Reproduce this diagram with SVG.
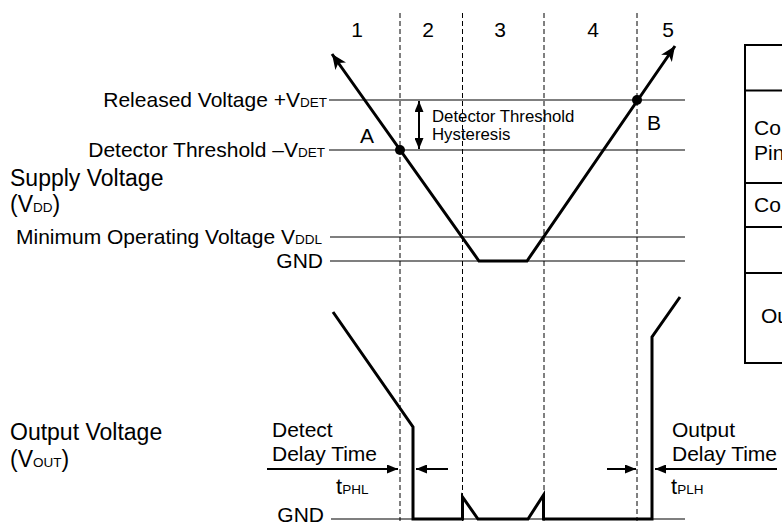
<svg xmlns="http://www.w3.org/2000/svg" width="782" height="526" viewBox="0 0 782 526">
<defs>
<style>
text{font-family:"Liberation Sans",Arial,sans-serif;fill:#000}
.lbl{font-size:21px}
.ttl{font-size:23px}
.hys{font-size:16.8px}
.sub{font-size:13.5px}
.ref{stroke:#000;stroke-width:1.2;fill:none}
.dash{stroke:#000;stroke-width:1;stroke-dasharray:5 3;fill:none}
.wave{stroke:#000;stroke-width:3;fill:none;stroke-linejoin:miter}
.arr{stroke:#000;stroke-width:2;fill:none}
.tbl{stroke:#000;stroke-width:2;fill:none}
</style>
<marker id="big" markerUnits="userSpaceOnUse" markerWidth="16" markerHeight="14" refX="15" refY="6.5" orient="auto-start-reverse">
<path d="M0,0 L15,6.5 L0,13 L4,6.5 z" fill="#000"/>
</marker>
<marker id="ah" markerUnits="userSpaceOnUse" markerWidth="11" markerHeight="9" refX="11" refY="4.5" orient="auto-start-reverse">
<path d="M0,0 L11,4.5 L0,9 z" fill="#000"/>
</marker>
</defs>

<g id="phase-dividers">
<line class="dash" x1="400" y1="13" x2="400" y2="521"/>
<line class="dash" x1="462.5" y1="13" x2="462.5" y2="521"/>
<line class="dash" x1="544" y1="13" x2="544" y2="521"/>
<line class="dash" x1="637" y1="13" x2="637" y2="521"/>
</g>

<g id="phase-numbers" class="lbl" text-anchor="middle">
<text x="357" y="37">1</text>
<text x="428" y="37">2</text>
<text x="500" y="37">3</text>
<text x="593" y="37">4</text>
<text x="668" y="37">5</text>
</g>

<g id="supply-levels">
<line class="ref" x1="329" y1="100" x2="685" y2="100"/>
<line class="ref" x1="329" y1="150" x2="685" y2="150"/>
<line class="ref" x1="330" y1="237" x2="685" y2="237"/>
<line class="ref" x1="330" y1="261" x2="685" y2="261"/>
<text class="lbl" x="327" y="107" text-anchor="end">Released Voltage +V<tspan class="sub">DET</tspan></text>
<text class="lbl" x="325" y="157" text-anchor="end">Detector Threshold –V<tspan class="sub">DET</tspan></text>
<text class="lbl" x="322" y="244" text-anchor="end">Minimum Operating Voltage V<tspan class="sub">DDL</tspan></text>
<text class="lbl" x="323" y="268" text-anchor="end">GND</text>
</g>

<g id="supply-title">
<text class="ttl" x="10" y="186">Supply Voltage</text>
<text class="ttl" x="10" y="212">(V<tspan class="sub" font-size="15">DD</tspan>)</text>
</g>

<g id="supply-waveform">
<polyline class="wave" points="332,54 479,261 527,261 675,46" marker-start="url(#big)" marker-end="url(#big)"/>
<circle id="point-A" cx="400" cy="150" r="5" fill="#000"/>
<circle id="point-B" cx="637" cy="100" r="5" fill="#000"/>
<text class="lbl" x="367" y="143" text-anchor="middle">A</text>
<text class="lbl" x="654" y="130" text-anchor="middle">B</text>
</g>

<g id="hysteresis">
<line class="arr" x1="419" y1="101" x2="419" y2="149" marker-start="url(#ah)" marker-end="url(#ah)"/>
<text class="hys" x="432" y="121.5">Detector Threshold</text>
<text class="hys" x="432" y="140">Hysteresis</text>
</g>

<g id="output-title">
<text class="ttl" x="10" y="440">Output Voltage</text>
<text class="ttl" x="10" y="467">(V<tspan class="sub" font-size="15">OUT</tspan>)</text>
</g>

<g id="output-level">
<line class="ref" x1="331" y1="519" x2="685" y2="519"/>
<text class="lbl" x="324" y="522" text-anchor="end">GND</text>
</g>

<g id="output-waveform">
<polyline class="wave" points="333,312 413,427 413,519 462.5,519 462.5,497 478,519 528,519 543.5,495 543.5,519 652,519 652,337 680,297"/>
</g>

<g id="detect-delay">
<text class="lbl" x="272" y="437">Detect</text>
<text class="lbl" x="272" y="461">Delay Time</text>
<text x="336" y="494" font-size="22">t<tspan class="sub" font-size="14">PHL</tspan></text>
</g>

<g id="output-delay">
<text class="lbl" x="672" y="437">Output</text>
<text class="lbl" x="672" y="461">Delay Time</text>
<text x="671" y="494" font-size="22">t<tspan class="sub" font-size="14">PLH</tspan></text>
</g>

<g id="connectors">
<line class="arr" x1="267" y1="469" x2="398" y2="469" marker-end="url(#ah)"/>
<line class="arr" x1="448" y1="469" x2="416" y2="469" marker-end="url(#ah)"/>
<line class="arr" x1="607" y1="469" x2="636" y2="469" marker-end="url(#ah)"/>
<line class="arr" x1="777" y1="469" x2="655" y2="469" marker-end="url(#ah)"/>
</g>

<g id="table">
<polyline class="tbl" points="782,45 745,45 745,363 782,363"/>
<line class="tbl" x1="745" y1="90.5" x2="782" y2="90.5"/>
<line class="tbl" x1="745" y1="183" x2="782" y2="183"/>
<line class="tbl" x1="745" y1="227" x2="782" y2="227"/>
<line class="tbl" x1="745" y1="273" x2="782" y2="273"/>
<text class="lbl" x="754" y="135">Co</text>
<text class="lbl" x="754" y="160">Pin</text>
<text class="lbl" x="754" y="212">Co</text>
<text class="lbl" x="761" y="323">Ou</text>
</g>
</svg>
